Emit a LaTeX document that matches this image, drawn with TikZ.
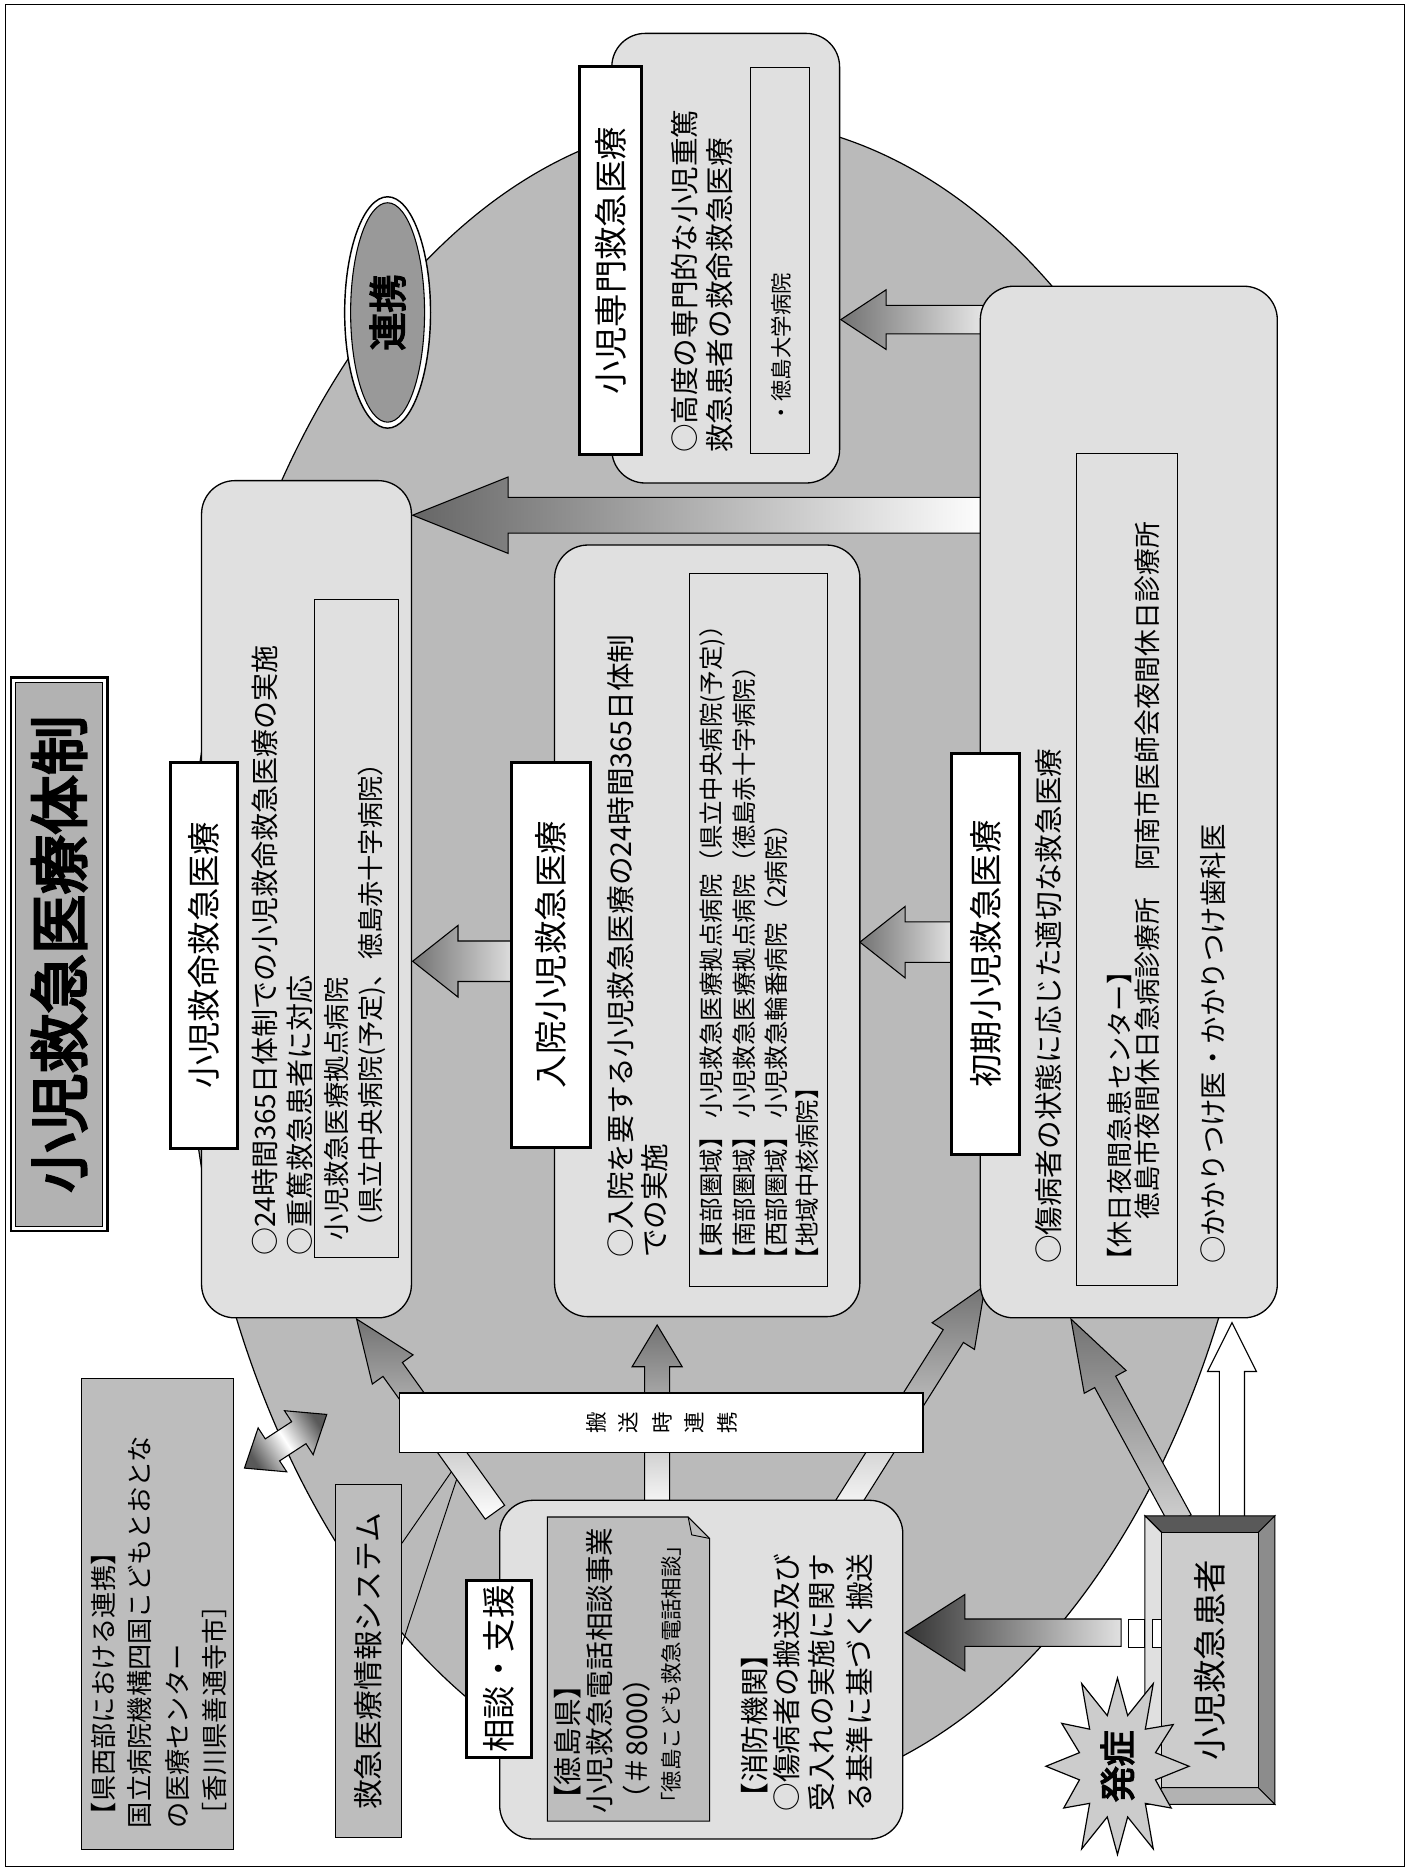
\documentclass[tikz,border=0pt]{standalone}
\usepackage{fontspec}
\newfontfamily\jp{Noto Sans CJK JP}
\newfontfamily\jpb[FakeBold=4]{Noto Sans CJK JP}
\usetikzlibrary{calc}
\newcommand\blkarrow[6]{%
 \path[#1] (#3) -- ($(#3)!#6!(#2)!#5!90:(#3)$) -- ($(#3)!#6!(#2)!#4!90:(#3)$) -- ($(#2)!#4!90:(#3)$) -- ($(#2)!#4!-90:(#3)$) -- ($(#3)!#6!(#2)!#4!-90:(#3)$) -- ($(#3)!#6!(#2)!#5!-90:(#3)$) -- cycle;}
\newcommand\dblarrow[6]{%
 \path[#1] (#2) -- ($(#2)!#6!(#3)!#5!90:(#3)$) -- ($(#2)!#6!(#3)!#4!90:(#3)$) -- ($(#3)!#6!(#2)!#4!-90:(#2)$) -- ($(#3)!#6!(#2)!#5!-90:(#2)$) -- (#3) -- ($(#3)!#6!(#2)!#5!90:(#2)$) -- ($(#3)!#6!(#2)!#4!90:(#2)$) -- ($(#2)!#6!(#3)!#4!-90:(#3)$) -- ($(#2)!#6!(#3)!#5!-90:(#3)$) -- cycle;}
\tikzset{
  txt/.style={rotate=90, anchor=west, inner sep=0pt, font=\jp\fontsize{#1}{#1}\selectfont},
  txt/.default=23,
  ctxt/.style={rotate=90, anchor=center, inner sep=0pt, font=\jp\fontsize{#1}{#1}\selectfont},
  ctxt/.default=28,
  rbox/.style={draw, line width=1.1pt, fill=black!12, rounded corners=28pt, inner sep=0pt},
  hbox/.style={draw, line width=2.4pt, fill=white, inner sep=0pt},
  ibox/.style={draw, line width=0.8pt, inner sep=0pt},
  gbox/.style={draw, line width=0.9pt, fill=black!26, inner sep=0pt},
  arr/.style={draw, line width=0.9pt},
}
\begin{document}
\begin{tikzpicture}[x=1pt,y=-1pt]
\useasboundingbox (0,0) rectangle (1182,1568);
\fill[white] (0,0) rectangle (1182,1568);
\draw[line width=0.8pt] (5,4) rectangle (1178,1565);

% big ellipse
\filldraw[fill=black!27, line width=1pt] (610,805) ellipse [x radius=455, y radius=705];

% renkei ellipse
\filldraw[fill=white, line width=1.2pt] (325,262) ellipse [x radius=36, y radius=97];
\filldraw[fill=black!40, line width=0.9pt] (325,262) ellipse [x radius=31, y radius=92];
\node[ctxt=32, font=\jpb\fontsize{32}{32}\selectfont] (renkei) at (325,262) {連携};

% title
\node[draw, line width=2pt, fill=white, minimum width=81pt, minimum height=464pt, inner sep=0pt] (titlebox) at (49.5,800) {};
\node[draw, line width=0.8pt, fill=black!30, minimum width=73pt, minimum height=456pt, inner sep=0pt] (titleinner) at (49.5,800) {};
\node[ctxt=50, font=\jpb\fontsize{50}{50}\selectfont] (title) at (49.5,800) {小児救急医療体制};

% left boxes
\node[gbox, minimum width=128pt, minimum height=395pt] (west) at (132,1353.5) {};
\node[txt=22] (w1) at (87,1533) {【県西部における連携】};
\node[txt=22] (w2) at (117,1533) {国立病院機構四国こどもとおとな};
\node[txt=22] (w3) at (149,1533) {の医療センター};
\node[txt=22] (w4) at (180,1533) {［香川県善通寺市］};

\node[gbox, minimum width=56pt, minimum height=296pt] (sys) at (309,1393) {};
\node[ctxt=25] (systxt) at (309,1393) {救急医療情報システム};

\coordinate (wedgeapex) at (391,1216);
\coordinate (wedge1) at (337,1294);
\coordinate (wedge2) at (337,1379);
\draw[line width=0.8pt] (wedge1) -- (wedgeapex) -- (wedge2);

\coordinate (dA) at (205,1231);
\coordinate (dB) at (274,1186);
\dblarrow{arr, top color=black!65, bottom color=black!65, middle color=white, shading angle=-57}{dA}{dB}{11pt}{22pt}{28pt}

% arrows from soudan (under bar)
\coordinate (a5t) at (415,1268); \coordinate (a5h) at (299,1106);
\coordinate (a6t) at (551,1270); \coordinate (a6h) at (551,1111);
\coordinate (a7t) at (705,1270); \coordinate (a7h) at (826,1078);
\blkarrow{arr, top color=black!55, bottom color=white}{a5t}{a5h}{10pt}{21pt}{52pt}
\blkarrow{arr, top color=black!55, bottom color=white}{a6t}{a6h}{10.5pt}{21pt}{35pt}
\blkarrow{arr, top color=black!55, bottom color=white}{a7t}{a7h}{10pt}{21pt}{50pt}

% bar
\node[draw, line width=1pt, fill=white, minimum width=439pt, minimum height=50pt, inner sep=0pt] (bar) at (554.5,1193) {};
\node[ctxt=18] (b1) at (500,1193) {搬};
\node[ctxt=18] (b2) at (527,1193) {送};
\node[ctxt=18] (b3) at (555,1193) {時};
\node[ctxt=18] (b4) at (582,1193) {連};
\node[ctxt=18] (b5) at (610,1193) {携};

% soudan box
\node[rbox, minimum width=338pt, minimum height=284pt] (soudan) at (588,1400) {};
\node[hbox, minimum width=55pt, minimum height=149pt] (soudanh) at (418.5,1399.5) {};
\node[ctxt=28] (soudanht) at (418.5,1399.5) {相談・支援};
\filldraw[fill=black!26, line width=0.9pt] (459,1272) -- (577,1272) -- (595,1290) -- (595,1527) -- (459,1527) -- cycle;
\draw[line width=0.8pt] (577,1272) -- (580,1287) -- (595,1290);
\node[txt=24] (s1) at (476,1521) {【徳島県】};
\node[txt=24] (s2) at (503,1521) {小児救急電話相談事業};
\node[txt=24] (s3) at (534,1521) {（＃8000）};
\node[txt=18] (s4) at (563,1521) {「徳島こども救急電話相談」};
\node[txt=24] (s5) at (633,1519) {【消防機関】};
\node[txt=24] (s6) at (660,1519) {○傷病者の搬送及び};
\node[txt=24] (s7) at (689,1519) {受入れの実施に関す};
\node[txt=24] (s8) at (721,1519) {る基準に基づく搬送};

% horizontal arrows between boxes
\coordinate (a1t) at (830,432); \coordinate (a1h) at (346,432);
\coordinate (a2t) at (830,268); \coordinate (a2h) at (705,268);
\coordinate (a3t) at (805,790); \coordinate (a3h) at (721,790);
\coordinate (a4t) at (440,806); \coordinate (a4h) at (346,806);
\blkarrow{arr, left color=black!60, right color=white}{a1t}{a1h}{15pt}{32pt}{80pt}
\blkarrow{arr, left color=black!55, right color=black!8}{a2t}{a2h}{12pt}{25pt}{38pt}
\blkarrow{arr, left color=black!55, right color=black!8}{a3t}{a3h}{17pt}{30pt}{38pt}
\blkarrow{arr, left color=black!55, right color=black!8}{a4t}{a4h}{17pt}{30pt}{38pt}

% kyumei
\node[rbox, minimum width=176pt, minimum height=702pt] (kyumei) at (257,754) {};
\node[hbox, minimum width=56pt, minimum height=324pt] (kyumeih) at (171,801) {};
\node[ctxt=28] (kyumeiht) at (171,801) {小児救命救急医療};
\node[txt=23.5] (k1) at (222,1053) {○24時間365日体制での小児救命救急医療の実施};
\node[txt=23.5] (k2) at (251,1053) {○重篤救急患者に対応};
\node[ibox, minimum width=70pt, minimum height=551pt] (kyumeii) at (299,778.5) {};
\node[txt=22] (k3) at (282,1040) {小児救急医療拠点病院};
\node[txt=22] (k4) at (312,1040) {（県立中央病院(予定)、徳島赤十字病院）};

% nyuin
\node[rbox, minimum width=256pt, minimum height=647pt] (nyuin) at (593,780.5) {};
\node[hbox, minimum width=66pt, minimum height=323pt] (nyuinh) at (462,800.5) {};
\node[ctxt=28] (nyuinht) at (462,800.5) {入院小児救急医療};
\node[txt=24] (n1) at (520,1055) {○入院を要する小児救急医療の24時間365日体制};
\node[txt=24] (n2) at (549,1055) {での実施};
\node[ibox, minimum width=116pt, minimum height=598pt] (nyuini) at (636,780) {};
\node[txt=20.5] (n3) at (597,1066) {【東部圏域】 小児救急医療拠点病院（県立中央病院(予定)）};
\node[txt=20.5] (n4) at (624,1066) {【南部圏域】 小児救急医療拠点病院（徳島赤十字病院）};
\node[txt=20.5] (n5) at (651,1066) {【西部圏域】 小児救急輪番病院（2病院）};
\node[txt=20.5] (n6) at (677,1066) {【地域中核病院】};

% shoki
\node[rbox, minimum width=249pt, minimum height=865pt] (shoki) at (946.5,672.5) {};
\node[hbox, minimum width=57pt, minimum height=336pt] (shokih) at (826.5,800) {};
\node[ctxt=28] (shokiht) at (826.5,800) {初期小児救急医療};
\node[txt=24] (h1) at (879,1060) {○傷病者の状態に応じた適切な救急医療};
\node[ibox, minimum width=84pt, minimum height=698pt] (shokii) at (945,729) {};
\node[txt=22] (h2) at (939,1068) {【休日夜間急患センター】};
\node[txt=22.5] (h3) at (962,1068) {　　徳島市夜間休日急病診療所　阿南市医師会夜間休日診療所};
\node[txt=23] (h4) at (1017,1060) {○かかりつけ医・かかりつけ歯科医};

% senmon
\node[rbox, minimum width=191pt, minimum height=377pt] (senmon) at (608.5,216.5) {};
\node[hbox, minimum width=52pt, minimum height=325pt] (senmonh) at (512,218.5) {};
\node[ctxt=28] (senmonht) at (512,218.5) {小児専門救急医療};
\node[txt=24] (m1) at (574,380) {○高度の専門的な小児重篤};
\node[txt=24] (m2) at (603,380) {救急患者の救命救急医療};
\node[ibox, minimum width=50pt, minimum height=323pt] (senmoni) at (654,218.5) {};
\node[txt=18] (m3) at (655,355) {・徳島大学病院};

% patient arrows
\coordinate (a8t) at (940,1369); \coordinate (a8h) at (759,1369);
\coordinate (a9t) at (990,1275); \coordinate (a9h) at (898,1106);
\coordinate (a10t) at (1033,1275); \coordinate (a10h) at (1033,1109);
\blkarrow{arr, left color=black!80, right color=black!12}{a8t}{a8h}{11.5pt}{32pt}{50pt}
\blkarrow{arr, top color=black!55, bottom color=black!18}{a9t}{a9h}{10pt}{20pt}{60pt}
\blkarrow{arr, fill=white}{a10t}{a10h}{10.5pt}{20.5pt}{41pt}

% patient box
\filldraw[fill=black!65, line width=0.8pt] (960,1271) -- (1069,1271) -- (1055,1285) -- (974,1285) -- cycle;
\filldraw[fill=black!45, line width=0.8pt] (1069,1271) -- (1069,1513) -- (1055,1499) -- (1055,1285) -- cycle;
\filldraw[fill=black!30, line width=0.8pt] (1069,1513) -- (960,1513) -- (974,1499) -- (1055,1499) -- cycle;
\filldraw[fill=black!12, line width=0.8pt] (960,1513) -- (960,1271) -- (974,1285) -- (974,1499) -- cycle;
\filldraw[fill=black!20, line width=0.8pt] (974,1285) rectangle (1055,1499);
\node[ctxt=28] (patient) at (1014.5,1392) {小児救急患者};
\filldraw[fill=white, line width=0.8pt] (946,1358) rectangle (960,1381);
\filldraw[fill=white, line width=0.8pt] (966,1358) rectangle (974,1381);

% starburst
\filldraw[fill=black!20, line width=1pt, shift={(937,1481)}]
 (0:60 and 80) -- (15:33 and 44) -- (30:52 and 70) -- (45:33 and 44) -- (60:60 and 80) -- (75:33 and 44)
 -- (90:54 and 74) -- (105:33 and 44) -- (120:60 and 80) -- (135:33 and 44) -- (150:52 and 70) -- (165:33 and 44)
 -- (180:60 and 80) -- (195:33 and 44) -- (210:54 and 72) -- (225:33 and 44) -- (240:60 and 80) -- (255:33 and 44)
 -- (270:52 and 74) -- (285:33 and 44) -- (300:60 and 80) -- (315:33 and 44) -- (330:54 and 70) -- (345:33 and 44) -- cycle;
\node[ctxt=30, font=\jpb\fontsize{30}{30}\selectfont] (hassho) at (937,1481) {発症};
\end{tikzpicture}
\end{document}
